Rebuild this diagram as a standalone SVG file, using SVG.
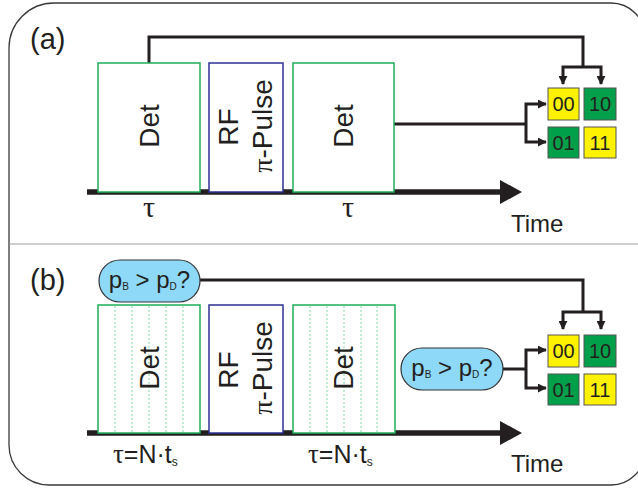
<svg xmlns="http://www.w3.org/2000/svg" width="638" height="490" viewBox="0 0 638 490">
<defs>
<style>
.sans{font-family:"Liberation Sans",Arial,sans-serif;fill:#231f20}
.serif{font-family:"Liberation Serif","Times New Roman",serif;fill:#231f20}
.det{fill:#fff;stroke:#1fae5a;stroke-width:1.5}
.rf{fill:#fff;stroke:#2e3192;stroke-width:1.5}
.dots{stroke:#5fcf8f;stroke-width:0.8;stroke-dasharray:2 2;fill:none}
.wire{fill:none;stroke:#231f20;stroke-width:3}
.bubble{fill:#8ed8f8;stroke:#333;stroke-width:1.2}
.y{fill:#fff200;stroke:#555;stroke-width:1}
.g{fill:#00a04a;stroke:#555;stroke-width:1}
.axis{stroke:#231f20;stroke-width:5.5}
.big{font-size:28px}
.sq{font-size:20px;text-anchor:middle}
</style>
<marker id="ah" viewBox="0 0 10 10" refX="9" refY="5" markerWidth="9" markerHeight="9" markerUnits="userSpaceOnUse" orient="auto-start-reverse">
<path d="M0,0 L10,5 L0,10 z" fill="#231f20"/>
</marker>
</defs>
<rect width="638" height="490" fill="#fff"/>
<path d="M54,3 H611 A34,34 0 0 1 645,37 V451 A34,34 0 0 1 611,485 H49 A40,40 0 0 1 9,445 V48 A45,45 0 0 1 54,3 Z" fill="none" stroke="#3a3a3a" stroke-width="1.3"/>
<line x1="9" y1="244" x2="645" y2="244" stroke="#a0a0a0" stroke-width="1.2"/>

<g id="panel-a-label"><text class="sans" x="30" y="49" font-size="29">(a)</text></g>
<g id="panel-b-label"><text class="sans" x="30" y="290" font-size="29">(b)</text></g>

<g id="connectors">
<line class="axis" x1="87" y1="192" x2="502" y2="192"/>
<polygon points="500,180 522,192 500,204" fill="#231f20"/>
<line class="axis" x1="87" y1="433" x2="502" y2="433"/>
<polygon points="500,421 522,433 500,445" fill="#231f20"/>
<polyline class="wire" points="149,63 149,37 583,37 583,67"/>
<polyline class="wire" points="563,84 563,67 601,67 601,84" marker-start="url(#ah)" marker-end="url(#ah)"/>
<polyline class="wire" points="394,124 526,124"/>
<polyline class="wire" points="546,104 526,104 526,142 546,142" marker-start="url(#ah)" marker-end="url(#ah)"/>
<polyline class="wire" points="200,280 583,280 583,312"/>
<polyline class="wire" points="563,329 563,312 601,312 601,329" marker-start="url(#ah)" marker-end="url(#ah)"/>
<polyline class="wire" points="503,369 526,369"/>
<polyline class="wire" points="546,350 526,350 526,388 546,388" marker-start="url(#ah)" marker-end="url(#ah)"/>
</g>

<g id="det-a1">
<rect class="det" x="98" y="63" width="102" height="129"/>
<text class="sans big" transform="translate(159,126) rotate(-90)" text-anchor="middle">Det</text>
</g>
<g id="rf-a">
<rect class="rf" x="209" y="63" width="74" height="129"/>
<text class="sans big" transform="translate(238,127) rotate(-90)" text-anchor="middle">RF</text>
<text class="sans big" transform="translate(272,126) rotate(-90)" text-anchor="middle"><tspan class="serif">π</tspan>-Pulse</text>
</g>
<g id="det-a2">
<rect class="det" x="293" y="63" width="101" height="129"/>
<text class="sans big" transform="translate(353,126) rotate(-90)" text-anchor="middle">Det</text>
</g>
<g id="tau-a">
<text class="serif" x="149" y="217" font-size="30" text-anchor="middle">τ</text>
<text class="serif" x="348" y="217" font-size="30" text-anchor="middle">τ</text>
<text class="sans" x="511" y="232" font-size="24">Time</text>
</g>
<g id="states-a">
<rect class="y" x="548" y="88" width="31" height="32"/>
<rect class="g" x="584" y="88" width="32" height="32"/>
<rect class="g" x="548" y="127" width="31" height="31"/>
<rect class="y" x="584" y="127" width="32" height="31"/>
<text class="sans sq" x="563.5" y="111">00</text>
<text class="sans sq" x="600" y="111">10</text>
<text class="sans sq" x="563.5" y="150">01</text>
<text class="sans sq" x="600" y="150">11</text>
</g>

<g id="bubble-b1">
<rect class="bubble" x="99" y="260" width="101" height="42" rx="21"/>
<text class="sans" x="149.5" y="288" font-size="24" text-anchor="middle">p<tspan font-size="10" dy="2">B</tspan><tspan dy="-2"> &gt; p</tspan><tspan font-size="10" dy="2">D</tspan><tspan dy="-2">?</tspan></text>
</g>
<g id="det-b1">
<rect class="det" x="98" y="305" width="102" height="128"/>
<path class="dots" d="M115,306 V432 M132,306 V432 M149,306 V432 M166,306 V432 M183,306 V432"/>
<text class="sans big" transform="translate(159,368) rotate(-90)" text-anchor="middle">Det</text>
</g>
<g id="rf-b">
<rect class="rf" x="209" y="305" width="74" height="128"/>
<text class="sans big" transform="translate(238,370) rotate(-90)" text-anchor="middle">RF</text>
<text class="sans big" transform="translate(272,368) rotate(-90)" text-anchor="middle"><tspan class="serif">π</tspan>-Pulse</text>
</g>
<g id="det-b2">
<rect class="det" x="293" y="305" width="102" height="128"/>
<path class="dots" d="M310,306 V432 M327,306 V432 M344,306 V432 M361,306 V432 M377,306 V432"/>
<text class="sans big" transform="translate(353,368) rotate(-90)" text-anchor="middle">Det</text>
</g>
<g id="bubble-b2">
<rect class="bubble" x="401" y="348" width="102" height="42" rx="21"/>
<text class="sans" x="452" y="376" font-size="24" text-anchor="middle">p<tspan font-size="10" dy="2">B</tspan><tspan dy="-2"> &gt; p</tspan><tspan font-size="10" dy="2">D</tspan><tspan dy="-2">?</tspan></text>
</g>
<g id="tau-b">
<text class="sans" x="113" y="463" font-size="25"><tspan class="serif" font-size="27">τ</tspan>=N·t<tspan font-size="12" dy="3">s</tspan></text>
<text class="sans" x="308" y="463" font-size="25"><tspan class="serif" font-size="27">τ</tspan>=N·t<tspan font-size="12" dy="3">s</tspan></text>
<text class="sans" x="511" y="472" font-size="24">Time</text>
</g>
<g id="states-b">
<rect class="y" x="548" y="335" width="31" height="32"/>
<rect class="g" x="584" y="335" width="32" height="32"/>
<rect class="g" x="548" y="374" width="31" height="31"/>
<rect class="y" x="584" y="374" width="32" height="31"/>
<text class="sans sq" x="563.5" y="358">00</text>
<text class="sans sq" x="600" y="358">10</text>
<text class="sans sq" x="563.5" y="397">01</text>
<text class="sans sq" x="600" y="397">11</text>
</g>
</svg>
